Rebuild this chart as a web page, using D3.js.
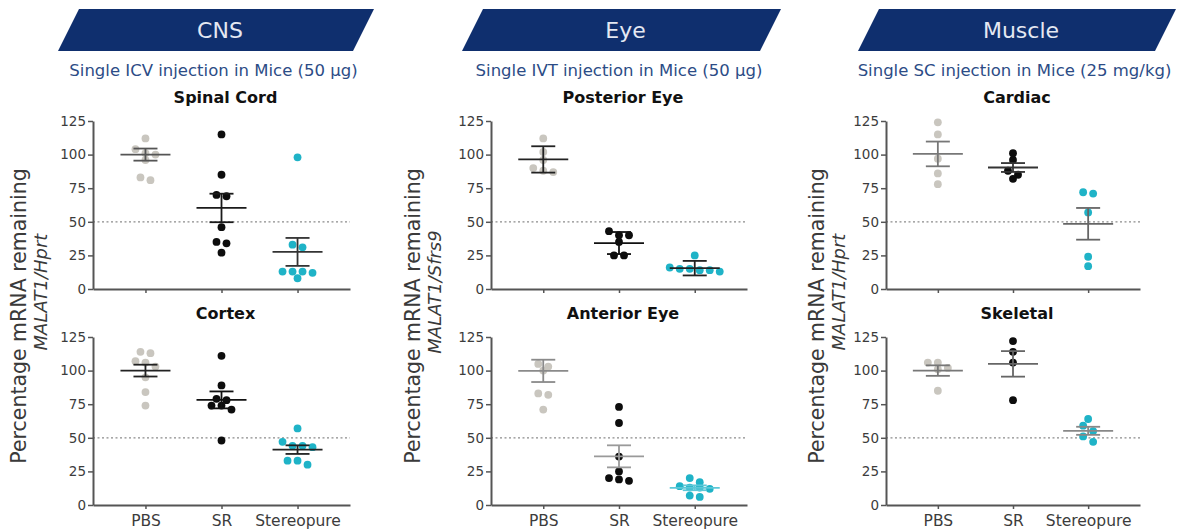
<!DOCTYPE html>
<html>
<head>
<meta charset="utf-8">
<script src="https://cdn.jsdelivr.net/npm/d3@7"></script>
<style>
  body { margin: 0; background: #fff; }
  svg { display: block; font-family: "DejaVu Sans", Verdana, sans-serif; }
</style>
</head>
<body>
<svg id="chart" width="1183" height="530"></svg>
<script>
// ---- data -------------------------------------------------------------
const groups = ["PBS", "SR", "Stereopure"];
const yTicks = [0, 25, 50, 75, 100, 125];
const halfLine = 50; // 50 % knock-down reference

const sections = ["CNS", "Eye", "Muscle"];
const subtitles = [
  "Single ICV injection in Mice (50 µg)",
  "Single IVT injection in Mice (50 µg)",
  "Single SC injection in Mice (25 mg/kg)"
];
const normalisers = ["Hprt", "Sfrs9", "Hprt"];
const tissues = [["Spinal Cord", "Cortex"], ["Posterior Eye", "Anterior Eye"], ["Cardiac", "Skeletal"]];

// % MALAT1 mRNA remaining, one value per animal: [PBS, SR, Stereopure]
const spinalCord = [
  [112, 104, 101, 100, 96, 83, 81],
  [115, 85, 70, 69, 46, 35, 34, 27],
  [98, 33, 31, 13, 13, 12, 13, 8]
];
const spinalCordMean = [100, 60.3, 27.6];
const spinalCordSem = [4.5, 10.6, 10.4];

const cortex = [
  [114, 113, 107, 106, 103, 95, 84, 74],
  [111, 89, 79, 78, 74, 71, 74, 48],
  [57, 47, 44, 43, 44, 33, 30, 33]
];
const cortexMean = [100, 78.2, 41.2];
const cortexSem = [4.4, 6.3, 3.2];

const posteriorEye = [
  [112, 102, 96, 90, 88, 87],
  [43, 40, 40, 35, 25, 25],
  [25, 16, 15, 14, 14, 13, 15]
];
const posteriorEyeMean = [96.4, 34.2, 15.5];
const posteriorEyeSem = [9.8, 8.2, 5.4];

const anteriorEye = [
  [105, 103, 100, 83, 82, 71],
  [73, 61, 36, 25, 20, 18, 19],
  [20, 17, 14, 13, 13, 12, 6, 7]
];
const anteriorEyeMean = [99.8, 36.2, 12.8];
const anteriorEyeSem = [8.3, 8.2, 1.8];

const cardiac = [
  [124, 115, 97, 86, 78],
  [101, 96, 88, 85, 82],
  [72, 71, 57, 24, 17]
];
const cardiacMean = [100.5, 90.4, 48.5];
const cardiacSem = [9.2, 3.3, 11.8];

const skeletal = [
  [106, 106, 102, 101, 85],
  [122, 114, 106, 78],
  [64, 59, 55, 51, 47]
];
const skeletalMean = [100, 105, 55.2];
const skeletalSem = [3.9, 9.5, 3.0];

// ---- styling & layout -------------------------------------------------
const dotColors = ["#c9c6bf", "#0d0d0d", "#1fb3c7"];
const navy = "#0f2f6e";
const colLeft = [93, 491, 886];
const colRight = [350, 747, 1140];
const rowTop = [121, 337];
const rowBottom = [289, 505];
const labelX = [[19, 41], [413, 435], [817, 839]];

// per-panel colours of mean and SEM lines
const lineStyles = [
  ["#555", "#1a1a1a", "#333"],
  ["#222", "#111", "#222"],
  ["#222", "#111", "#222"],
  ["#8a8a8a", "#9a9a9a", "#5cc8d8"],
  ["#777", "#333", "#666"],
  ["#777", "#666", "#888"]
];

const panels = [
  { col: 0, row: 0, values: spinalCord, mean: spinalCordMean, sem: spinalCordSem },
  { col: 0, row: 1, values: cortex, mean: cortexMean, sem: cortexSem },
  { col: 1, row: 0, values: posteriorEye, mean: posteriorEyeMean, sem: posteriorEyeSem },
  { col: 1, row: 1, values: anteriorEye, mean: anteriorEyeMean, sem: anteriorEyeSem },
  { col: 2, row: 0, values: cardiac, mean: cardiacMean, sem: cardiacSem },
  { col: 2, row: 1, values: skeletal, mean: skeletalMean, sem: skeletalSem }
];

const svg = d3.select("#chart");

// ---- section banners ---------------------------------------------------
const bannerTop = 9, bannerBottom = 51, slant = 21;
sections.forEach((name, c) => {
  const left = [58, 462, 858][c], right = [353, 760, 1155][c];
  const g = svg.append("g");
  g.append("path")
    .attr("d", `M${left + slant},${bannerTop}L${right + slant},${bannerTop}L${right},${bannerBottom}L${left},${bannerBottom}Z`)
    .attr("fill", navy);
  g.append("text")
    .attr("x", (left + right) / 2 + slant / 2 + 4)
    .attr("y", (bannerTop + bannerBottom) / 2)
    .attr("dy", "0.36em")
    .attr("text-anchor", "middle")
    .attr("fill", "#e4e8f2")
    .attr("font-size", 22)
    .text(name);
  g.append("text")
    .attr("x", (left + right) / 2 + 8)
    .attr("y", 70)
    .attr("dy", "0.36em")
    .attr("text-anchor", "middle")
    .attr("fill", "#2c4c86")
    .attr("font-size", 16.5)
    .text(subtitles[c]);

  // y-axis title shared by both panels of the column
  const cy = (rowTop[0] + rowBottom[1]) / 2;
  const yl = svg.append("g").attr("fill", "#3a3a3a").attr("text-anchor", "middle");
  yl.append("text")
    .attr("transform", `translate(${labelX[c][0]},${cy + 3}) rotate(-90)`)
    .attr("dy", "0.36em")
    .attr("font-size", 20.5)
    .text("Percentage mRNA remaining");
  yl.append("text")
    .attr("transform", `translate(${labelX[c][1]},${cy - 21}) rotate(-90)`)
    .attr("dy", "0.36em")
    .attr("font-size", 18)
    .attr("font-style", "italic")
    .text(`MALAT1/${normalisers[c]}`);
});

// ---- simple row-based beeswarm ----------------------------------------
function swarm(vals, y, r, gap) {
  const pts = vals.map(v => ({ v, y: y(v) })).sort((a, b) => a.y - b.y);
  const rows = [];
  pts.forEach(p => {
    const last = rows[rows.length - 1];
    if (last && p.y - last[0].y < r * 1.6) last.push(p);
    else rows.push([p]);
  });
  rows.forEach(row => {
    const k = row.length;
    row.forEach((p, i) => { p.dx = (i - (k - 1) / 2) * gap; });
  });
  return pts;
}

// ---- panels ------------------------------------------------------------
panels.forEach((p, pi) => {
  const x0 = colLeft[p.col], x1 = colRight[p.col];
  const yTop = rowTop[p.row], yBot = rowBottom[p.row];
  const y = d3.scaleLinear().domain([0, 125]).range([yBot, yTop]);
  const x = d3.scalePoint().domain(groups).range([x0, x1]).padding(0.69);
  const g = svg.append("g");

  // tissue title
  g.append("text")
    .attr("x", (x0 + x1) / 2 + 4)
    .attr("y", yTop - 24)
    .attr("dy", "0.36em")
    .attr("text-anchor", "middle")
    .attr("font-weight", "bold")
    .attr("font-size", 16)
    .attr("fill", "#111")
    .text(tissues[p.col][p.row]);

  // 50 % dotted reference
  g.append("line")
    .attr("x1", x0).attr("x2", x1)
    .attr("y1", y(halfLine)).attr("y2", y(halfLine))
    .attr("stroke", "#8c8c8c").attr("stroke-width", 1.2)
    .attr("stroke-dasharray", "2,2.5");

  // axes
  const ya = g.append("g").attr("transform", `translate(${x0},0)`)
    .call(d3.axisLeft(y).tickValues(yTicks).tickSize(5).tickSizeOuter(0).tickPadding(2));
  const xa = g.append("g").attr("transform", `translate(0,${yBot})`)
    .call(d3.axisBottom(x).tickSize(4).tickSizeOuter(0).tickPadding(6)
      .tickFormat(p.row === 1 ? d => d : () => ""));
  [ya, xa].forEach(a => {
    a.select(".domain").attr("stroke", "#555").attr("stroke-width", 2);
    a.selectAll(".tick line").attr("stroke", "#555").attr("stroke-width", 1.5);
    a.selectAll(".tick text").attr("fill", "#3c3c3c")
      .attr("font-family", "'DejaVu Sans', Verdana, sans-serif");
  });
  ya.selectAll(".tick text").attr("font-size", 13.5);
  xa.selectAll(".tick text").attr("font-size", 15.5);

  groups.forEach((grp, gi) => {
    const cx = x(grp);
    const pts = swarm(p.values[gi], y, 3.9, 10);
    g.append("g").selectAll("circle").data(pts).join("circle")
      .attr("cx", d => cx + d.dx)
      .attr("cy", d => d.y)
      .attr("r", 3.9)
      .attr("fill", dotColors[gi]);

    const m = p.mean[gi], s = p.sem[gi];
    const col = lineStyles[pi][gi];
    const lg = g.append("g").attr("stroke", col).attr("stroke-width", 1.8).attr("fill", "none");
    lg.append("line").attr("x1", cx - 25).attr("x2", cx + 25).attr("y1", y(m)).attr("y2", y(m));
    lg.append("line").attr("x1", cx).attr("x2", cx).attr("y1", y(m + s)).attr("y2", y(m - s));
    [m + s, m - s].forEach(v => {
      lg.append("line").attr("x1", cx - 12).attr("x2", cx + 12).attr("y1", y(v)).attr("y2", y(v));
    });
  });
});
</script>
</body>
</html>
